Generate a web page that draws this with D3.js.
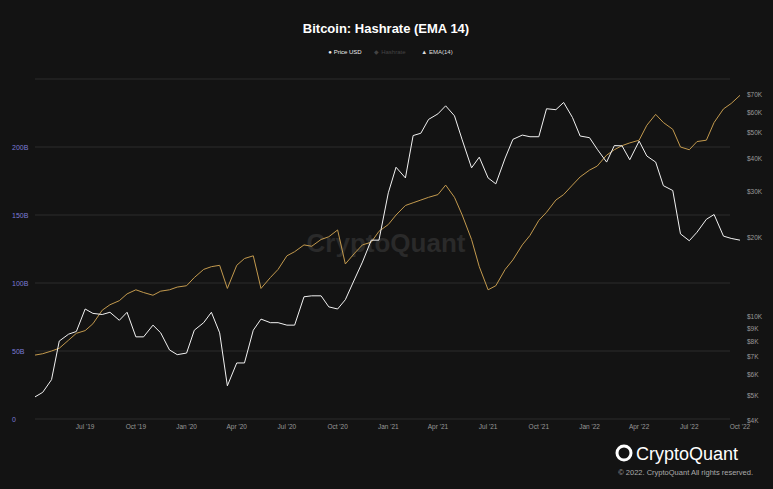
<!DOCTYPE html>
<html><head><meta charset="utf-8">
<script src="https://cdn.jsdelivr.net/npm/d3@7"></script>
<style>
body{margin:0;background:#131313;font-family:"Liberation Sans",Arial,sans-serif;}
</style></head>
<body><svg id="c" width="773" height="489"></svg>
<script>
// semi-monthly sample dates, Apr 2019 .. Oct 2022
var dates = [];
for (var y = 2019; y <= 2022; y++) {
  for (var m = 0; m < 12; m++) {
    if (y == 2019 && m < 3) continue;
    if (y == 2022 && m > 8) continue;
    dates.push(y + "-" + (m + 1) + "-1", y + "-" + (m + 1) + "-15");
  }
}
dates.push("2022-10-1");

// BTC price, thousands USD
var price = [4.9,5.1, 5.7,8.0, 8.5,8.7, 10.6,10.2, 10.1,10.3, 9.6,10.3, 8.3,8.3, 9.2,8.6, 7.4,7.1,
  7.2,8.8, 9.4,10.3, 8.6,5.4, 6.6,6.6, 8.8,9.7, 9.4,9.4, 9.2,9.2, 11.8,11.9, 11.9,10.8, 10.6,11.5, 13.8,16.0, 19.4,19.4,
  29.4,36.8, 33.5,48.6, 49.6,56.0, 58.8,63.1, 57.8,46.8, 36.6,40.2, 33.5,31.8, 39.9,47.0, 48.8,48.1, 48.1,61.5, 61.0,65.0, 57.0,48.4,
  47.7,43.1, 38.5,44.5, 44.4,39.3, 46.3,40.6, 38.5,31.3, 30.0,20.5, 19.3,20.8, 23.3,24.3, 20.1,19.7, 19.4];

// Hashrate EMA(14), billions
var emaHash = [47,48, 50,52, 58,63, 65,70, 80,84, 87,92, 95,93, 91,94, 95,97,
  98,104, 110,112, 113,96, 113,118, 120,96, 104,110, 120,123, 128,127, 132,134, 139,114, 122,128, 130,138,
  143,150, 157,159, 161,163, 165,172, 163,150, 132,112, 95,98, 110,117, 128,135, 146,152, 161,165, 172,178,
  183,186, 194,198, 201,203, 205,216, 224,218, 213,200, 198,204, 205,218, 228,232, 238];

var xTicks = ["2019-07-01","2019-10-01","2020-01-01","2020-04-01","2020-07-01","2020-10-01","2021-01-01","2021-04-01","2021-07-01","2021-10-01","2022-01-01","2022-04-01","2022-07-01","2022-10-01"];
var leftTicks = [0, 50, 100, 150, 200];
var rightTicks = [4,5,6,7,8,9,10,20,30,40,50,60,70];

var svg = d3.select("#c");
var parse = d3.timeParse("%Y-%m-%d");
var rows = dates.map(function(d, i){ return {date: parse(d), price: price[i], ema: emaHash[i]}; });

var x = d3.scaleTime().domain([parse("2019-04-01"), parse("2022-10-01")]).range([35, 740]);
var yL = d3.scaleLinear().domain([0, 250]).range([419, 79]);
var yR = d3.scaleLog().domain([4, 70]).range([420, 94]);

svg.append("rect").attr("width", 773).attr("height", 489).attr("fill", "#131313");

// grid
svg.selectAll("line.g").data(leftTicks.concat([250])).enter().append("line")
  .attr("x1", 35).attr("x2", 730)
  .attr("y1", function(d){ return yL(d); }).attr("y2", function(d){ return yL(d); })
  .attr("stroke", "#333").attr("stroke-width", 0.8);

svg.append("text").attr("x", 386).attr("y", 252).attr("text-anchor", "middle")
  .attr("font-size", 26).attr("fill", "#2a2a2a").attr("font-weight", "bold").text("CryptoQuant");

// axes
svg.selectAll("text.l").data(leftTicks).enter().append("text")
  .attr("x", 12).attr("y", function(d){ return yL(d) + 3; })
  .attr("font-size", 7).attr("fill", "#7b7bd6").text(function(d){ return d ? d + "B" : "0"; });

svg.selectAll("text.r").data(rightTicks).enter().append("text")
  .attr("x", 747).attr("y", function(d){ return yR(d) + 3; })
  .attr("font-size", 6.5).attr("fill", "#999").text(function(d){ return "$" + d + "K"; });

svg.selectAll("text.x").data(xTicks).enter().append("text")
  .attr("x", function(d){ return x(parse(d)); }).attr("y", 429).attr("text-anchor", "middle")
  .attr("font-size", 6.5).attr("fill", "#999").text(function(d){ return d3.timeFormat("%b '%y")(parse(d)); });

// lines
svg.append("path").datum(rows).attr("fill", "none").attr("stroke", "#c39a4e").attr("stroke-width", 1)
  .attr("d", d3.line().x(function(d){ return x(d.date); }).y(function(d){ return yL(d.ema); }));
svg.append("path").datum(rows).attr("fill", "none").attr("stroke", "#f2f2f2").attr("stroke-width", 1)
  .attr("d", d3.line().x(function(d){ return x(d.date); }).y(function(d){ return yR(d.price); }));

// title + legend
svg.append("text").attr("x", 386).attr("y", 33).attr("text-anchor", "middle").attr("font-size", 13)
  .attr("font-weight", "bold").attr("fill", "#fff").text("Bitcoin: Hashrate (EMA 14)");
var leg = [["● Price USD", "#eee", 345], ["◆ Hashrate", "#444", 390], ["▲ EMA(14)", "#ddd", 437]];
leg.forEach(function(l, i){
  svg.append("text").attr("x", l[2]).attr("y", 54).attr("text-anchor", "middle").attr("font-size", 6)
    .attr("fill", l[1]).text(l[0]);
});
svg.select("text:last-child");

// logo + copyright
svg.append("circle").attr("cx", 624).attr("cy", 453).attr("r", 7).attr("fill", "none").attr("stroke", "#fff").attr("stroke-width", 3);
svg.append("text").attr("x", 636).attr("y", 460).attr("font-size", 18).attr("fill", "#fff").text("CryptoQuant");
svg.append("text").attr("x", 753).attr("y", 475).attr("text-anchor", "end").attr("font-size", 7.5)
  .attr("fill", "#aaa").text("© 2022. CryptoQuant All rights reserved.");
</script></body></html>
